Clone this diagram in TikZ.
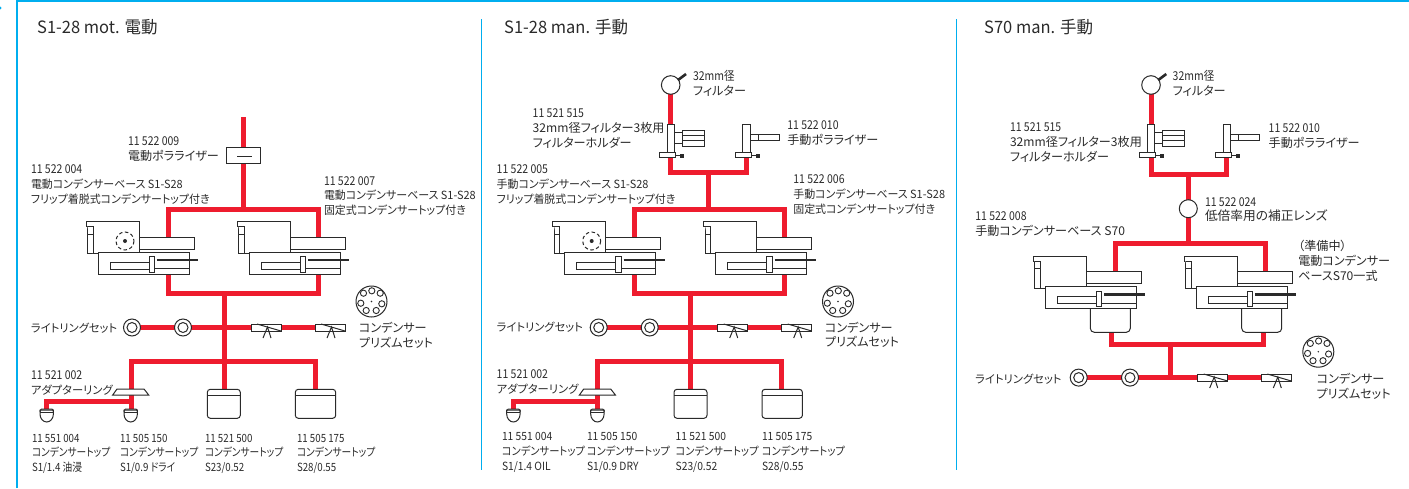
\documentclass[tikz,border=0pt]{standalone}
\usepackage{fontspec}
\setmainfont[RawFeature=+palt]{Noto Sans CJK JP}
\newfontfamily\fB[RawFeature=+palt,FakeStretch=0.97]{Noto Sans CJK JP}
\newfontfamily\fC[RawFeature=+palt,FakeStretch=0.86]{Noto Sans CJK JP}
\newfontfamily\fD[RawFeature=+palt,FakeStretch=0.91]{Noto Sans CJK JP}
\newfontfamily\fN[FakeStretch=0.86]{Noto Sans CJK JP}
\newcommand{\nm}[1]{{\fN\fontsize{12.2}{14.6}\selectfont #1}}
\definecolor{fr}{HTML}{00AEEF}
\definecolor{rd}{HTML}{EE1C2E}
\definecolor{ink}{HTML}{2A2A2A}
\tikzset{
  x=1pt,y=-1pt,
  frame/.style={draw=fr,line width=2pt},
  red/.style={draw=rd,line width=5pt,line cap=butt,line join=miter},
  ln/.style={draw=ink,line width=1pt,fill=white,line join=miter},
  blk/.style={draw=ink,line width=2.6pt},
  lab/.style={font=\fontsize{11.3}{14.6}\selectfont,text=ink,inner sep=0pt,outer sep=0pt,anchor=base west,align=left},
  labw/.style={lab,font=\fontsize{12.1}{14.6}\selectfont},
  labx/.style={lab,font=\fontsize{12.7}{14.6}\selectfont},
  labn/.style={lab,font=\fB\fontsize{11.3}{14.6}\selectfont},
  labc/.style={lab,font=\fC\fontsize{11.3}{14.6}\selectfont},
  labd/.style={lab,font=\fD\fontsize{11.3}{14.6}\selectfont},
  ttl/.style={font=\fB\fontsize{17}{20}\selectfont,text=ink,inner sep=0pt,anchor=base west}
}
% condenser base module; origin = panel 1 left module
\newcommand{\cbase}[1]{\begin{scope}[shift={#1}]
 \draw[ln] (139,237) rectangle (194,249);
 \draw[ln] (86,221.5) -- (139,221.5) -- (139,252) -- (98,252) -- (98,253.5) -- (87.5,253.5) -- (87.5,226.5) -- (86,226.5) -- cycle;
 \draw[ln] (87.5,226.5) -- (93,226.5) -- (93,253.5);
 \draw[ln] (87.5,234) -- (93,234);
 \draw[ln] (98,252) rectangle (189,274);
 \draw[ln] (110,262) rectangle (149,269);
 \draw[ln] (154.5,268.5) -- (189,268.5);
 \draw[ln] (149,256.5) rectangle (154.5,272);
 \draw[blk] (157,260) -- (198,260);
\end{scope}}
\newcommand{\dashcirc}[1]{\begin{scope}[shift={#1}]
 \draw[draw=ink,line width=1pt,dash pattern=on 3.5pt off 2.5pt] (125,241) circle[radius=9];
 \fill[ink] (125,241) circle[radius=2];
\end{scope}}
\newcommand{\ringmark}[1]{\draw[ln] #1 circle[radius=8.5]; \draw[ln] #1 circle[radius=5];}
\newcommand{\prism}[1]{\begin{scope}[shift={#1}]
 \draw[ln] (0,0) rectangle (30,7);
 \draw[draw=ink,line width=1pt] (6,0) -- (30,7);
 \draw[draw=ink,line width=1pt] (12,14) -- (16.5,3) -- (20,14);
\end{scope}}
\newcommand{\turret}[1]{\begin{scope}[shift={#1}]
 \draw[ln] (0,0) circle[radius=15.5];
 \foreach \a/\b in {-8/-8.3,0.3/-10.7,8.7/-8.3,10.3/2.3,4.7/9,-5.3/9,-10.7/1.7}
   \draw[draw=ink,line width=0.9pt] (\a,\b) circle[radius=3.1];
 \fill[ink] (0,0) circle[radius=0.8];
\end{scope}}
\newcommand{\smallobj}[1]{\begin{scope}[shift={#1}]
 \draw[ln] (-6.7,1) -- (-6.7,5) arc[start angle=180,end angle=0,x radius=6.7,y radius=8] -- (6.7,1) -- cycle;
 \draw[draw=ink,line width=1pt,rounded corners=1.5pt] (-6.7,3) -- (-6.7,0) -- (6.7,0) -- (6.7,3);
 \draw[draw=ink,line width=1pt] (-6.7,3.3) -- (6.7,3.3);
\end{scope}}
\newcommand{\bigobj}[3]{\draw[ln,rounded corners=3pt] (#1,#3) rectangle (#2,418.3+#3-389.3);
 \draw[draw=ink,line width=1pt] (#1,395.3+#3-389.3) -- (#2,395.3+#3-389.3);}
% filter part: origin = panel 2
\newcommand{\upper}[2]{\begin{scope}[shift={(#1,0)}]
 \coordinate (#2f) at (670.7,85);
 \coordinate (#2a) at (670.7,124);
 \draw[red] (#2f) -- (#2a);
 \draw[ln] (#2f) circle[radius=9.3];
 \draw[blk] (678,80) -- (686,74);
 \draw[ln] (674,132) rectangle (682,143);
 \draw[ln] (682,130) rectangle (704,146);
 \draw[ln] (682,135) -- (704,135);
 \draw[ln] (682,140.5) -- (704,140.5);
 \draw[ln] (667.3,124) rectangle (674,152);
 \draw[ln] (659.3,152) rectangle (675,157);
 \draw[draw=ink,line width=1pt] (675,155) -- (680,155);
 \fill[ink] (680,153.5) rectangle (684,158);
 \draw[ln] (750,134.3) rectangle (758,140.7);
 \draw[ln] (758,134.3) rectangle (779.3,140.7);
 \draw[ln] (742.7,124) rectangle (750.3,152);
 \draw[ln] (735.3,152) rectangle (751,157);
 \draw[draw=ink,line width=1pt] (751,155) -- (756,155);
 \fill[ink] (756,153.5) rectangle (760,158);
\end{scope}}
% shared bottom of panels 1 and 2
\newcommand{\lowerpart}[2]{\begin{scope}[shift={(#1,0)}]
 \coordinate (#2A) at (168,274);\coordinate (#2B) at (318,274);
 \coordinate (#2C) at (168,293);\coordinate (#2D) at (318,293);
 \coordinate (#2E) at (224,293);\coordinate (#2F) at (224,361);\coordinate (#2G) at (224,389.5);
 \coordinate (#2H) at (132,327.5);\coordinate (#2I) at (345,327.5);
 \coordinate (#2J) at (131,361);\coordinate (#2K) at (315,361);\coordinate (#2L) at (131,409);\coordinate (#2M) at (315,389.5);
 \coordinate (#2N) at (131,401.7);\coordinate (#2O) at (46.7,401.7);\coordinate (#2P) at (46.7,409);
 \draw[red] (#2A) -- (#2C) -- (#2D) -- (#2B);
 \draw[red] (#2E) -- (#2G);
 \draw[red] (#2H) -- (#2I);
 \draw[red] (#2L) -- (#2J) -- (#2K) -- (#2M);
 \draw[red] (#2N) -- (#2O) -- (#2P);
 \ringmark{(132,327.5)}\ringmark{(183,327.5)}
 \prism{(251,324)}\prism{(315,324)}
 \draw[ln] (117,389) -- (144,389) -- (148.7,395) -- (112.7,395) -- cycle;
 \smallobj{(46.7,409)}\smallobj{(130.7,409)}
 \bigobj{207.3}{240.3}{389.3}\bigobj{295.3}{335.7}{389.3}
\end{scope}}
\begin{document}
\begin{tikzpicture}
\useasboundingbox (0,0) rectangle (1409,488);
% frame
\coordinate (fa) at (17,488);\coordinate (fb) at (17,1);\coordinate (fc) at (1409,1);
\draw[frame] (fa) -- (fb) -- (fc);
\coordinate (sa) at (481.5,19);\coordinate (sb) at (481.5,470);
\coordinate (sc) at (956.5,19);\coordinate (sd) at (956.5,470);
\draw[draw=fr,line width=1.2pt] (sa) -- (sb);
\draw[draw=fr,line width=1.2pt] (sc) -- (sd);
\fill[fr] (0,8) circle[radius=1.6];
%% Panel 1
\coordinate (p1a) at (243.5,117);\coordinate (p1b) at (243.5,209);
\coordinate (p1c) at (168,237);\coordinate (p1d) at (168,209);\coordinate (p1e) at (318,209);\coordinate (p1f) at (318,237);
\draw[red] (p1a) -- (p1b);
\draw[red] (p1c) -- (p1d) -- (p1e) -- (p1f);
\lowerpart{0}{x}
\draw[ln] (226,147) rectangle (260,163);
\draw[draw=ink,line width=1pt] (237,156.5) -- (252,156.5);
\cbase{(0,0)}\dashcirc{(0,0)}\cbase{(151,0)}
\turret{(371.5,301.5)}
%% Panel 2
\coordinate (p2a) at (670.7,157);\coordinate (p2b) at (670.7,172.5);\coordinate (p2c) at (746.7,172.5);\coordinate (p2d) at (746.7,157);
\coordinate (p2e) at (708,172.5);\coordinate (p2f) at (708,209);
\coordinate (p2g) at (634.7,237);\coordinate (p2h) at (634.7,209);\coordinate (p2i) at (784.7,209);\coordinate (p2j) at (784.7,237);
\draw[red] (p2a) -- (p2b) -- (p2c) -- (p2d);
\draw[red] (p2e) -- (p2f);
\draw[red] (p2g) -- (p2h) -- (p2i) -- (p2j);
\upper{0}{u}
\lowerpart{466.7}{y}
\cbase{(466.7,0)}\dashcirc{(466.7,0)}\cbase{(617.7,0)}
\turret{(838,301.5)}
%% Panel 3
\coordinate (p3a) at (1151,157);\coordinate (p3b) at (1151,174.7);\coordinate (p3c) at (1226.9,174.7);\coordinate (p3d) at (1226.9,157);
\coordinate (p3e) at (1188.3,174.7);\coordinate (p3f) at (1188.3,243.3);
\coordinate (p3g) at (1115,271);\coordinate (p3h) at (1115,243.3);\coordinate (p3i) at (1265.7,243.3);\coordinate (p3j) at (1265.7,271);
\coordinate (p3k) at (1111,332);\coordinate (p3l) at (1111,344);\coordinate (p3m) at (1263.7,344);\coordinate (p3n) at (1263.7,332);
\coordinate (p3o) at (1170,344);\coordinate (p3p) at (1170,377.6);\coordinate (p3q) at (1079,377.6);\coordinate (p3r) at (1291,377.6);
\draw[red] (p3a) -- (p3b) -- (p3c) -- (p3d);
\draw[red] (p3e) -- (p3f);
\draw[red] (p3g) -- (p3h) -- (p3i) -- (p3j);
\draw[red] (p3k) -- (p3l) -- (p3m) -- (p3n);
\draw[red] (p3o) -- (p3p);
\draw[red] (p3q) -- (p3r);
\upper{480.3}{v}
\draw[ln] (1188.3,208.7) circle[radius=9];
\draw[ln,rounded corners=4pt] (1090.3,300) -- (1090.3,332.3) -- (1130.3,332.3) -- (1130.3,300);
\draw[ln,rounded corners=4pt] (1241.7,300) -- (1241.7,332.3) -- (1281.7,332.3) -- (1281.7,300);
\cbase{(947.3,34.5)}\cbase{(1098,34.5)}
\ringmark{(1078.7,377.6)}\ringmark{(1130,377.6)}
\prism{(1197.7,374)}\prism{(1261.3,374)}
\turret{(1318.3,351.7)}
%% Labels panel 1
\node[ttl] (t1) at (37,33) {S1-28 mot. 電動};
\node[labw] (a1) at (128,160) {\nm{11 522 009}\\電動ポラライザー};
\node[labn] (a2) at (31,203) {\nm{11 522 004}\\電動コンデンサーベース S1-S28\\フリップ着脱式コンデンサートップ付き};
\node[labn] (a3) at (324,214.5) {\nm{11 522 007}\\電動コンデンサーベース S1-S28\\固定式コンデンサートップ付き};
\node[lab] (a4) at (31,332) {ライトリングセット};
\node[labw] (a5) at (359,347) {コンデンサー\\プリズムセット};
\node[lab] (a6) at (31,394) {\nm{11 521 002}\\アダプターリング};
\node[labc] (a7) at (32,471.5) {11 551 004\\コンデンサートップ\\S1/1.4 油浸};
\node[labc] (a8) at (120,471.5) {11 505 150\\コンデンサートップ\\S1/0.9 ドライ};
\node[labc] (a9) at (205,471.5) {11 521 500\\コンデンサートップ\\S23/0.52};
\node[labc] (a10) at (297,471.5) {11 505 175\\コンデンサートップ\\S28/0.55};
%% Labels panel 2
\node[ttl] (t2) at (504,33) {S1-28 man. 手動};
\node[labw] (b1) at (693,95) {\nm{32mm径}\\フィルター};
\node[labw] (b2) at (532.7,147) {\nm{11 521 515}\\32mm径フィルター3枚用\\フィルターホルダー};
\node[labw] (b3) at (787.3,144) {\nm{11 522 010}\\手動ポラライザー};
\node[labn] (b4) at (496.7,203) {\nm{11 522 005}\\手動コンデンサーベース S1-S28\\フリップ着脱式コンデンサートップ付き};
\node[labn] (b5) at (793.3,213) {\nm{11 522 006}\\手動コンデンサーベース S1-S28\\固定式コンデンサートップ付き};
\node[lab] (b6) at (496.7,331.7) {ライトリングセット};
\node[labw] (b7) at (825,346.7) {コンデンサー\\プリズムセット};
\node[lab] (b8) at (496.7,393.3) {\nm{11 521 002}\\アダプターリング};
\node[labd] (b9) at (502,470) {11 551 004\\コンデンサートップ\\S1/1.4 OIL};
\node[labd] (b10) at (587,470) {11 505 150\\コンデンサートップ\\S1/0.9 DRY};
\node[labd] (b11) at (675.7,470) {11 521 500\\コンデンサートップ\\S23/0.52};
\node[labd] (b12) at (762,470) {11 505 175\\コンデンサートップ\\S28/0.55};
%% Labels panel 3
\node[ttl] (t3) at (984,33) {S70 man. 手動};
\node[labw] (c1) at (1172.7,95) {\nm{32mm径}\\フィルター};
\node[labw] (c2) at (1010,161) {\nm{11 521 515}\\32mm径フィルター3枚用\\フィルターホルダー};
\node[labw] (c3) at (1268.7,147.3) {\nm{11 522 010}\\手動ポラライザー};
\node[labx] (c4) at (1205,220.7) {\nm{11 522 024}\\低倍率用の補正レンズ};
\node[labw] (c5) at (975.3,235.3) {\nm{11 522 008}\\手動コンデンサーベース S70};
\node[labw] (c6) at (1298.3,280) {（準備中）\\電動コンデンサー\\ベースS70一式};
\node[lab] (c7) at (975.3,383) {ライトリングセット};
\node[labw] (c8) at (1316.7,398) {コンデンサー\\プリズムセット};
\end{tikzpicture}
\end{document}
